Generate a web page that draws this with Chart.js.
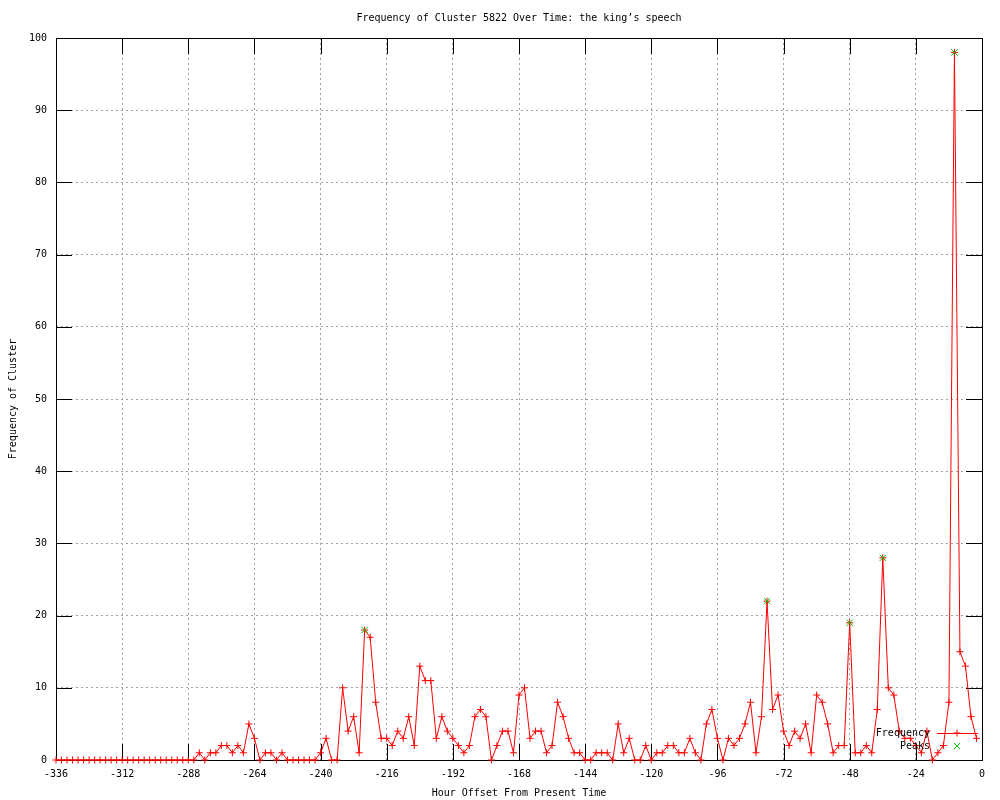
<!DOCTYPE html>
<html>
<head>
<meta charset="utf-8">
<script src="https://cdn.jsdelivr.net/npm/chart.js@4.4.1/dist/chart.umd.min.js"></script>
<style>
  html, body { margin: 0; padding: 0; background: #ffffff; }
  #wrap { width: 1000px; height: 800px; }
</style>
</head>
<body>
<div id="wrap"><canvas id="chart"></canvas></div>
<script>
// hourly counts, one sample every 2 hours starting at -336
const startHour = -336;
const stepHours = 2;
const frequency = [
    0, 0, 0, 0, 0, 0, 0, 0, 0, 0, 0, 0, 0, 0, 0, 0, 0, 0, 0, 0, 0, 0, 0, 0, 0, 0,
    1, 0, 1, 1, 2, 2, 1, 2, 1, 5,
    3, 0, 1, 1, 0, 1, 0, 0, 0, 0,
    0, 0, 1, 3, 0, 0, 10, 4, 6, 1,
    18, 17, 8, 3, 3, 2, 4, 3, 6, 2,
    13, 11, 11, 3, 6, 4, 3, 2, 1, 2,
    6, 7, 6, 0, 2, 4, 4, 1, 9, 10,
    3, 4, 4, 1, 2, 8, 6, 3, 1, 1,
    0, 0, 1, 1, 1, 0, 5, 1, 3, 0,
    0, 2, 0, 1, 1, 2, 2, 1, 1, 3,
    1, 0, 5, 7, 3, 0, 3, 2, 3, 5,
    8, 1, 6, 22, 7, 9, 4, 2, 4, 3,
    5, 1, 9, 8, 5, 1, 2, 2, 19, 1,
    1, 2, 1, 7, 28, 10, 9, 4, 3, 3,
    2, 1, 4, 0, 1, 2, 8, 98, 15, 13,
    6, 3,
];
const peakHours = [-224, -78, -48, -36, -10];
const peakValues = [18, 22, 19, 28, 98];

const FONT = { family: '"DejaVu Sans Mono", monospace', size: 10 };
const RED = '#ff0000';
const GREEN = '#00c000';
const GRID = '#a0a0a0';

// gnuplot look: full frame, inward ticks on all four sides, key in lower right
const gnuplotFrame = {
    id: 'gnuplotFrame',
    beforeDatasetsDraw(chart) {
        const { ctx, chartArea: a, scales: { x, y } } = chart;
        const len = 16;
        ctx.save();
        ctx.strokeStyle = '#000000';
        ctx.lineWidth = 1;
        ctx.beginPath();
        x.ticks.forEach(t => {
            const px = Math.round(x.getPixelForValue(t.value)) + 0.5;
            ctx.moveTo(px, a.bottom); ctx.lineTo(px, a.bottom - len);
            ctx.moveTo(px, a.top); ctx.lineTo(px, a.top + len);
        });
        y.ticks.forEach(t => {
            const py = Math.round(y.getPixelForValue(t.value)) + 0.5;
            ctx.moveTo(a.left, py); ctx.lineTo(a.left + len, py);
            ctx.moveTo(a.right, py); ctx.lineTo(a.right - len, py);
        });
        ctx.stroke();
        ctx.strokeRect(Math.round(a.left) + 0.5, Math.round(a.top) + 0.5,
            Math.round(a.right - a.left), Math.round(a.bottom - a.top));
        ctx.restore();
    },
    afterDatasetsDraw(chart) {
        const { ctx, chartArea: a } = chart;
        const textRight = a.right - 52;
        const row1 = a.bottom - 27;
        const row2 = a.bottom - 14;
        ctx.save();
        ctx.font = `${FONT.size}px ${FONT.family}`;
        ctx.fillStyle = '#000000';
        ctx.textAlign = 'right';
        ctx.textBaseline = 'middle';
        ctx.fillText('Frequency', textRight, row1);
        ctx.fillText('Peaks', textRight, row2);
        ctx.strokeStyle = RED;
        ctx.lineWidth = 1;
        ctx.beginPath();
        ctx.moveTo(textRight + 7, row1 + 0.5);
        ctx.lineTo(textRight + 48, row1 + 0.5);
        ctx.stroke();
        const mx = textRight + 27;
        Chart.helpers.drawPoint(ctx, { pointStyle: 'cross', radius: 3.5, borderWidth: 1 }, mx, row1);
        ctx.strokeStyle = GREEN;
        Chart.helpers.drawPoint(ctx, { pointStyle: 'crossRot', radius: 4.5, borderWidth: 1 }, mx, row2);
        ctx.restore();
    },
};

new Chart(document.getElementById('chart'), {
    type: 'line',
    data: {
        datasets: [
            {
                label: 'Peaks',
                data: peakHours.map((h, i) => ({ x: h, y: peakValues[i] })),
                showLine: false,
                borderColor: GREEN,
                backgroundColor: GREEN,
                pointStyle: 'crossRot',
                pointRadius: 4.5,
                pointBorderWidth: 1,
                clip: false,
                order: 0,
            },
            {
                label: 'Frequency',
                data: frequency.map((v, i) => ({ x: startHour + i * stepHours, y: v })),
                borderColor: RED,
                backgroundColor: RED,
                borderWidth: 1,
                tension: 0,
                pointStyle: 'cross',
                pointRadius: 3.5,
                pointBorderWidth: 1,
                clip: false,
                order: 1,
            },
        ],
    },
    options: {
        responsive: true,
        maintainAspectRatio: false,
        animation: false,
        devicePixelRatio: 1,
        layout: { padding: { top: 0, right: 18, left: 0, bottom: 0 } },
        plugins: {
            legend: { display: false },
            tooltip: { enabled: false },
            title: {
                display: true,
                fullSize: false,
                text: 'Frequency of Cluster 5822 Over Time: the king\u2019s speech',
                color: '#000000',
                font: { ...FONT, weight: 'normal' },
                padding: { top: 12, bottom: 14 },
            },
        },
        scales: {
            x: {
                type: 'linear',
                min: -336,
                max: 0,
                afterFit(scale) { scale.height = 40; },
                grid: { color: GRID, drawTicks: false },
                border: { display: false, dash: [2, 3] },
                ticks: { stepSize: 24, color: '#000000', font: FONT, padding: 8, maxRotation: 0 },
                title: {
                    display: true,
                    text: 'Hour Offset From Present Time',
                    color: '#000000',
                    font: FONT,
                    padding: { top: 0, bottom: 1 },
                },
            },
            y: {
                min: 0,
                max: 100,
                afterFit(scale) { scale.width = 56; },
                grid: { color: GRID, drawTicks: false },
                border: { display: false, dash: [2, 3] },
                ticks: { stepSize: 10, color: '#000000', font: FONT, padding: 9 },
                title: {
                    display: true,
                    text: 'Frequency of Cluster',
                    color: '#000000',
                    font: FONT,
                    padding: { top: 7, bottom: 0 },
                },
            },
        },
    },
    plugins: [gnuplotFrame],
});
</script>
</body>
</html>
